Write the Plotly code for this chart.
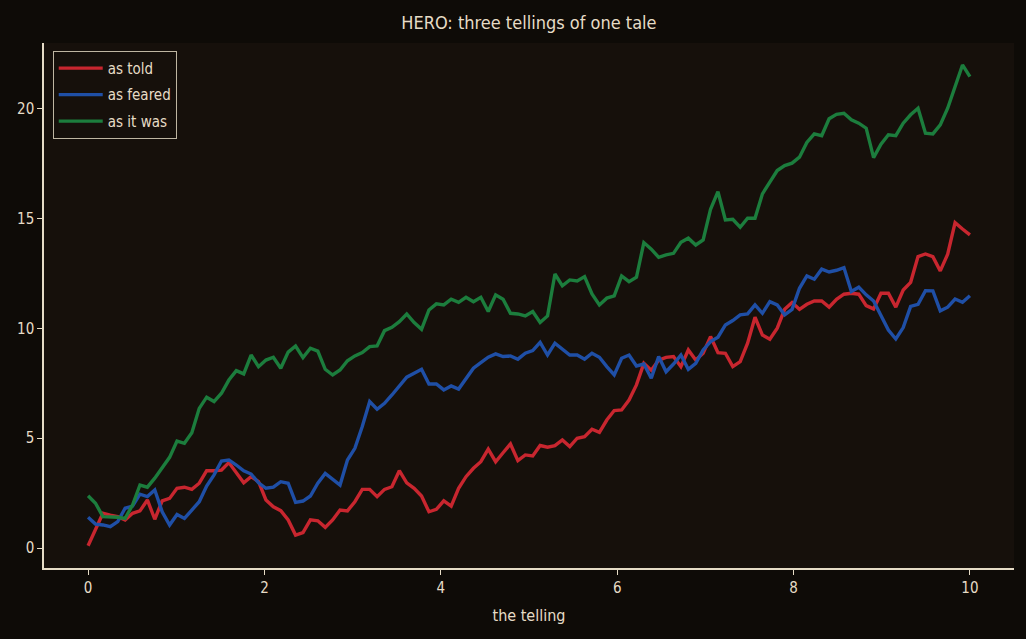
import numpy as np
import plotly.graph_objects as go

n_points = 120
telling = np.linspace(0, 10, n_points)

as_told = [
    0.10, 0.85, 1.58, 1.50, 1.43, 1.28, 1.58, 1.69, 2.19, 1.31,
    2.15, 2.26, 2.72, 2.77, 2.67, 2.95, 3.52, 3.52, 3.55, 3.89,
    3.45, 2.97, 3.25, 3.02, 2.19, 1.88, 1.70, 1.28, 0.59, 0.70,
    1.28, 1.24, 0.94, 1.28, 1.73, 1.69, 2.11, 2.67, 2.67, 2.34,
    2.67, 2.79, 3.52, 2.97, 2.72, 2.37, 1.65, 1.76, 2.15, 1.91,
    2.72, 3.25, 3.63, 3.93, 4.50, 3.93, 4.34, 4.74, 3.98, 4.24,
    4.19, 4.67, 4.59, 4.66, 4.92, 4.62, 5.00, 5.07, 5.41, 5.27,
    5.83, 6.26, 6.29, 6.74, 7.43, 8.41, 8.10, 8.55, 8.68, 8.72,
    8.26, 9.02, 8.56, 8.87, 9.63, 8.90, 8.87, 8.26, 8.49, 9.33,
    10.51, 9.70, 9.51, 10.01, 10.87, 11.18, 10.87, 11.10, 11.25, 11.25,
    10.97, 11.33, 11.56, 11.60, 11.56, 11.04, 10.89, 11.60, 11.60, 10.97,
    11.75, 12.10, 13.27, 13.39, 13.27, 12.62, 13.38, 14.82, 14.53, 14.26,
]

as_feared = [
    1.40, 1.09, 1.05, 0.97, 1.20, 1.81, 1.91, 2.45, 2.34, 2.64,
    1.65, 1.05, 1.53, 1.35, 1.73, 2.11, 2.82, 3.33, 3.96, 4.01,
    3.78, 3.52, 3.37, 2.97, 2.72, 2.77, 3.02, 2.95, 2.08, 2.14,
    2.37, 2.95, 3.40, 3.14, 2.87, 4.01, 4.54, 5.53, 6.67, 6.32,
    6.59, 6.97, 7.39, 7.78, 7.96, 8.14, 7.47, 7.47, 7.20, 7.38,
    7.24, 7.69, 8.19, 8.44, 8.69, 8.84, 8.72, 8.75, 8.60, 8.87,
    8.99, 9.37, 8.79, 9.33, 9.05, 8.79, 8.79, 8.60, 8.87, 8.69,
    8.26, 7.88, 8.64, 8.79, 8.29, 8.38, 7.73, 8.72, 8.03, 8.38,
    8.79, 8.14, 8.41, 9.02, 9.40, 9.60, 10.16, 10.36, 10.62, 10.66,
    11.07, 10.69, 11.22, 11.07, 10.62, 10.87, 11.83, 12.39, 12.24, 12.70,
    12.57, 12.65, 12.77, 11.68, 11.88, 11.53, 11.25, 10.62, 9.93, 9.52,
    10.04, 11.00, 11.10, 11.72, 11.71, 10.80, 10.97, 11.34, 11.19, 11.49,
]

as_it_was = [
    2.38, 2.04, 1.43, 1.43, 1.40, 1.35, 1.96, 2.87, 2.77, 3.18,
    3.68, 4.13, 4.87, 4.77, 5.25, 6.36, 6.87, 6.67, 7.05, 7.65,
    8.08, 7.93, 8.79, 8.26, 8.56, 8.69, 8.19, 8.92, 9.20, 8.67,
    9.10, 8.97, 8.14, 7.88, 8.11, 8.53, 8.75, 8.90, 9.17, 9.20,
    9.90, 10.05, 10.31, 10.66, 10.27, 9.96, 10.84, 11.12, 11.07, 11.33,
    11.19, 11.42, 11.22, 11.42, 10.77, 11.53, 11.33, 10.69, 10.66, 10.57,
    10.77, 10.27, 10.57, 12.48, 11.94, 12.21, 12.16, 12.36, 11.57, 11.07,
    11.38, 11.48, 12.39, 12.13, 12.33, 13.91, 13.61, 13.24, 13.35, 13.42,
    13.92, 14.11, 13.80, 14.03, 15.43, 16.23, 14.94, 14.97, 14.61, 15.02,
    15.02, 16.13, 16.66, 17.19, 17.42, 17.53, 17.80, 18.47, 18.86, 18.78,
    19.55, 19.75, 19.80, 19.50, 19.35, 19.12, 17.78, 18.39, 18.82, 18.78,
    19.35, 19.73, 20.03, 18.89, 18.86, 19.27, 20.03, 21.02, 22.00, 21.47,
]

series_names = ["as told", "as feared", "as it was"]
series_values = [as_told, as_feared, as_it_was]
series_colors = ["#c8262f", "#1f4fa6", "#1c7d3d"]

x_ticks = [0, 2, 4, 6, 8, 10]
y_ticks = [0, 5, 10, 15, 20]

cream = "#e6dcc6"
font_family = "'DejaVu Sans Condensed', 'Liberation Sans Narrow', 'DejaVu Sans', sans-serif"

fig = go.Figure()
for name, vals, col in zip(series_names, series_values, series_colors):
    fig.add_trace(go.Scatter(
        x=telling, y=vals, mode="lines", name=name, legendgroup=name,
        line=dict(color=col, width=3.4),
    ))

fig.update_layout(
    width=1026, height=639,
    margin=dict(l=44, r=12, t=43, b=71),
    paper_bgcolor="#0e0b07",
    plot_bgcolor="#16100b",
    font=dict(family=font_family, color=cream, size=15),
    title=dict(text="HERO: three tellings of one tale", x=0.5155, xanchor="center",
               y=0.965, yanchor="middle", font=dict(size=18, color=cream)),
    showlegend=True,
    legend=dict(x=0.009, y=0.985, xanchor="left", yanchor="top",
                bgcolor="#16100b", bordercolor="#bfb6a2", borderwidth=1,
                font=dict(size=15, color=cream), itemwidth=44,
                tracegroupgap=4, traceorder="grouped"),
)

fig.update_xaxes(
    range=[-0.5, 10.5], tickvals=x_ticks, ticks="outside", ticklen=5,
    tickcolor=cream, showline=True, linecolor=cream, linewidth=1.5,
    showgrid=False, zeroline=False, mirror=False,
    title=dict(text="the telling", font=dict(size=16, color=cream), standoff=14),
    tickfont=dict(size=15, color=cream),
)
fig.update_yaxes(
    range=[-0.91, 23.0], tickvals=y_ticks, ticks="outside", ticklen=5,
    tickcolor=cream, showline=True, linecolor=cream, linewidth=1.5,
    showgrid=False, zeroline=False, mirror=False,
    tickfont=dict(size=15, color=cream),
)

fig.write_html("out.html")
